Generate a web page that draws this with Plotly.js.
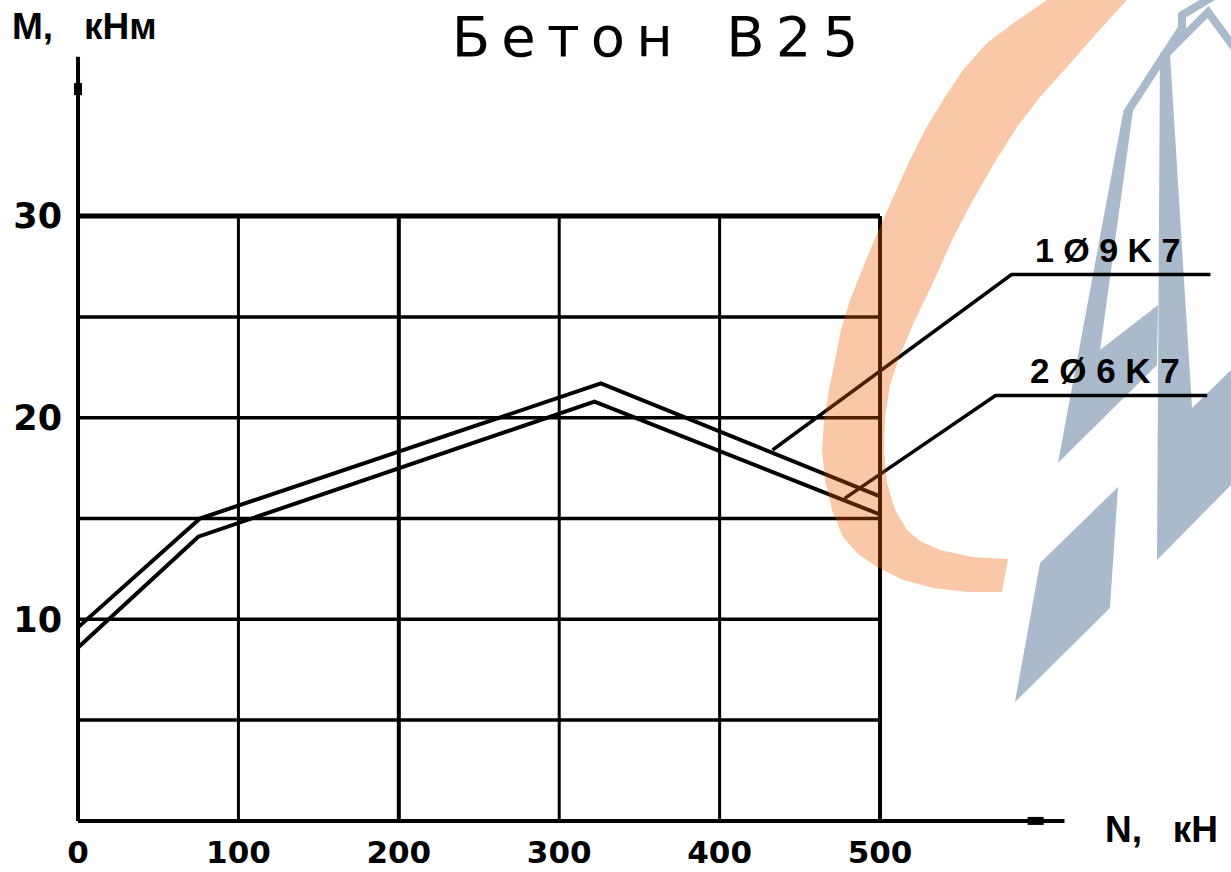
<!DOCTYPE html>
<html>
<head>
<meta charset="utf-8">
<script src="https://cdn.plot.ly/plotly-3.0.1.min.js"></script>
<style>html,body{margin:0;padding:0;background:#fff;}</style>
</head>
<body>
<div id="chart" style="width:1231px;height:872px;"></div>
<script>
// ---- data ----
const nTicks = [0, 100, 200, 300, 400, 500];
const mTicks = [10, 20, 30];
const mGrid = [5, 10, 15, 20, 25, 30];
const curveN1 = [0, 76, 326, 500];
const curveM1 = [9.6, 15.0, 21.7, 16.1];
const curveN2 = [0, 75, 322, 500];
const curveM2 = [8.6, 14.1, 20.8, 15.2];
const lead1N = [433, 582, 706];
const lead1M = [18.4, 27.1, 27.1];
const lead2N = [478, 572, 704];
const lead2M = [16.0, 21.1, 21.1];
const seriesLabels = ['1Ø9K7', '2Ø6K7'];
const titleText = 'Бетон В25';
const yLabel = 'М,   кНм';
const xLabel = 'N,   кН';

// ---- layout geometry ----
const W = 1231, H = 872;
const kx = 1.604, ky = 20.16;         // pixels per data unit
const x0pad = 5, y0pad = 0.5;         // small negative range so axis lines are not clipped
const mL = 78 - Math.round(x0pad * kx), mR = 11, mT = 55, mB = Math.round(51 - y0pad * ky);
const plotW = W - mL - mR, plotH = H - mT - mB;
const px = X => (X - mL) / plotW;
const py = Y => (H - mB - Y) / plotH;
function pathFrom(pts, close) {
  return pts.map((p, i) => (i ? 'L' : 'M') + px(p[0]).toFixed(4) + ',' + py(p[1]).toFixed(4)).join(' ') + (close ? ' Z' : '');
}

const ink = '#000';
const shapes = [];

// watermark (blue logo, below)
const blue = '#A9BACD';
const bluePolys = [
  [[1123,113],[1133,111],[1100,350],[1158,305],[1157,365],[1058,463]],
  [[1160,53],[1170,53],[1184,280],[1192,408],[1233,368],[1233,483],[1157,560]],
  [[1040,563],[1118,487],[1110,608],[1015,702]]
];
bluePolys.forEach(p => shapes.push({type:'path', xref:'paper', yref:'paper', layer:'below',
  path: pathFrom(p, true), fillcolor: blue, line:{width:0}}));
const blueStrokes = [
  [[1126,114],[1182,28],[1182,15],[1214,-4]],
  [[1164,56],[1208,12],[1236,50]]
];
blueStrokes.forEach(p => shapes.push({type:'path', xref:'paper', yref:'paper', layer:'below',
  path: pathFrom(p, false), line:{color: blue, width: 8}}));

// grid
nTicks.forEach(v => shapes.push({type:'line', xref:'x', yref:'y', layer:'below',
  x0:v, x1:v, y0:0, y1:30, line:{color:ink, width:(v===200||v===500)?4:3}}));
mGrid.forEach(v => shapes.push({type:'line', xref:'x', yref:'y', layer:'below',
  x0:0, x1:500, y0:v, y1:v, line:{color:ink, width:(v===30)?5:3.5}}));
// axis lines with arrow marks
shapes.push({type:'line', xref:'x', yref:'y', layer:'below', x0:0, x1:615, y0:0, y1:0, line:{color:ink, width:4}});
shapes.push({type:'line', xref:'x', yref:'y', layer:'below', x0:0, x1:0, y0:0, y1:37.9, line:{color:ink, width:4}});
shapes.push({type:'line', xref:'x', yref:'y', layer:'below', x0:592, x1:602, y0:0, y1:0, line:{color:ink, width:8}});
shapes.push({type:'line', xref:'x', yref:'y', layer:'below', x0:0, x1:0, y0:36.0, y1:36.6, line:{color:ink, width:8}});

// orange arc (above)
const orangePts = [
  [1049,-5],[1047,0],[1015,22],[987,43],[963,70],[943,100],[925,130],[910,160],[895,193],[880,227],[864,265],
  [850,300],[841,330],[835,360],[829,390],[824,420],[822,450],[825,480],[832,510],[843,537],[858,554],[877,567],
  [903,580],[933,588],[968,592],[1002,592],[1008,559],[972,557],[940,550],[920,541],[907,530],[895,510],[887,483],
  [884,450],[885,417],[890,385],[900,355],[915,320],[933,283],[952,240],[973,200],[995,162],[1017,127],[1040,97],
  [1067,67],[1097,33],[1127,0],[1131,-5]
];
shapes.push({type:'path', xref:'paper', yref:'paper', layer:'above',
  path: pathFrom(orangePts, true), fillcolor:'rgb(241,94,0)', opacity:0.34, line:{width:0}});

const lineStyle = {color: ink, width: 4};
const traces = [
  {x: curveN1, y: curveM1, mode:'lines', line: lineStyle, name: seriesLabels[0], hoverinfo:'skip'},
  {x: curveN2, y: curveM2, mode:'lines', line: lineStyle, name: seriesLabels[1], hoverinfo:'skip'},
  {x: lead1N, y: lead1M, mode:'lines', line:{color:ink, width:3.5}, hoverinfo:'skip'},
  {x: lead2N, y: lead2M, mode:'lines', line:{color:ink, width:3.5}, hoverinfo:'skip'}
];

const boldFont = (s, fam) => ({family: fam || 'Liberation Sans, Arial, sans-serif', size:s, color:ink, weight:'bold'});
const spaced = s => s.split('').join(' ');

const annotations = [
  {text: spaced(seriesLabels[0]), x: (lead1N[1]+lead1N[2])/2 - 2, y: lead1M[1], xref:'x', yref:'y',
   xanchor:'center', yanchor:'bottom', yshift: 4, showarrow:false, font: boldFont(34)},
  {text: spaced(seriesLabels[1]), x: (lead2N[1]+lead2N[2])/2 + 2, y: lead2M[1], xref:'x', yref:'y',
   xanchor:'center', yanchor:'bottom', yshift: 4, showarrow:false, font: boldFont(35)},
  {text: yLabel, xref:'paper', yref:'paper', x: px(10), y: py(27), xanchor:'left', yanchor:'middle',
   showarrow:false, font: boldFont(37)},
  {text: xLabel, xref:'paper', yref:'paper', x: px(1103), y: py(829), xanchor:'left', yanchor:'middle',
   showarrow:false, font: boldFont(37)}
];

const T = '\u2009';
const titleShown = titleText.split(' ').map(w => w.split('').join(T)).join('   ');

const layout = {
  width: W, height: H,
  margin: {l: mL, r: mR, t: mT, b: mB, pad: 0},
  paper_bgcolor:'#fff', plot_bgcolor:'#fff',
  showlegend:false,
  title: {text: titleShown,
          x: 655/W, xref:'container', xanchor:'center', y: 1 - 36/H, yref:'container', yanchor:'middle',
          font:{family:'DejaVu Sans, sans-serif', size:56, color:ink}},
  xaxis: {range:[-x0pad, -x0pad + plotW/kx], showgrid:false, zeroline:false, showline:false,
          tickvals: nTicks, ticktext: nTicks.map(String), ticks:'', ticklen:0,
          tickfont: boldFont(31, 'DejaVu Sans, sans-serif'), fixedrange:true},
  yaxis: {range:[-y0pad, -y0pad + plotH/ky], showgrid:false, zeroline:false, showline:false,
          tickvals: mTicks, ticktext: mTicks.map(String), ticks:'outside', ticklen:0,
          tickcolor:'rgba(0,0,0,0)', tickfont: boldFont(35, 'DejaVu Sans, sans-serif'), fixedrange:true},
  shapes: shapes,
  annotations: annotations
};

Plotly.newPlot('chart', traces, layout, {staticPlot:true, displayModeBar:false});
</script>
</body>
</html>
